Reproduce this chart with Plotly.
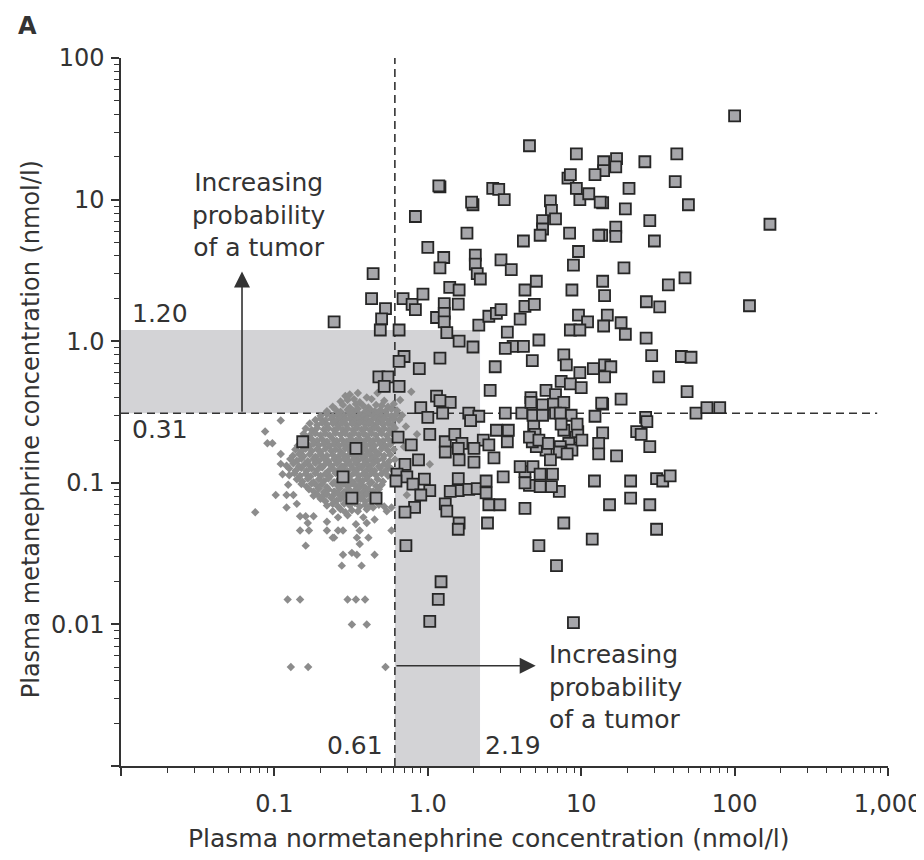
import math
import plotly.graph_objects as go

# ---------------- data (nmol/l) ----------------
NMN_REF_LIMIT = 0.61     # normetanephrine upper reference limit
NMN_HIGH_LIMIT = 2.19    # normetanephrine upper limit of grey zone
MN_REF_LIMIT = 0.31      # metanephrine upper reference limit
MN_HIGH_LIMIT = 1.20     # metanephrine upper limit of grey zone

x_tick_vals = [0.01, 0.1, 1, 10, 100, 1000]
x_tick_text = ["", "0.1", "1.0", "10", "100", "1,000"]
y_tick_vals = [0.001, 0.01, 0.1, 1, 10, 100]
y_tick_text = ["", "0.01", "0.1", "1.0", "10", "100"]

# patients with tumour: (normetanephrine, metanephrine)
tumor_points = [
    (100, 39), (42, 21), (41, 13.4), (20.5, 12), (50, 9.2), (13.8, 9.5), (19.4, 8.6), (28, 7.1), (170, 6.7),
    (16.8, 6.4), (16.8, 5.5), (13.6, 5.6), (30, 5.1), (19, 3.3), (13.8, 2.65), (37, 2.5), (47.5, 2.8),
    (14.2, 2.1), (26.6, 1.9), (32.5, 1.75), (125, 1.78), (14.8, 1.53), (14, 1.28), (18.2, 1.35), (19.4, 1.12),
    (26.5, 1.05), (28.8, 0.79), (45, 0.78), (52, 0.77), (14.2, 0.68), (15.6, 0.66), (14.2, 0.56), (32, 0.56),
    (49, 0.44), (18.2, 0.39), (13.8, 0.36), (56, 0.31), (66, 0.34), (80, 0.34), (26.3, 0.29), (26.8, 0.27),
    (23, 0.23), (24.6, 0.22), (13.8, 0.225), (28, 0.18),
    (4.6, 24), (9.3, 21), (14, 18.5), (17, 19.5), (16.8, 17), (14, 16), (26, 18.5),
    (1.2, 12.3), (1.18, 12.5), (2.65, 12), (2.9, 11.8), (3.15, 10), (1.97, 9.2), (1.93, 9.6), (0.83, 7.6),
    (1.8, 5.8), (1.0, 4.6), (1.27, 3.9), (1.2, 3.3), (0.44, 3.0), (2.04, 4.05), (2.04, 3.5), (2.1, 3.0),
    (2.2, 2.75), (3.0, 3.75), (3.5, 3.2), (4.2, 5.1), (6.3, 9.8), (6.4, 8.4), (6.8, 7.3), (5.6, 7.1),
    (5.6, 6.2), (5.4, 5.6), (8.2, 14.2), (8.5, 15), (12.3, 15), (9.3, 12), (9.8, 10), (11.2, 11),
    (13.3, 9.6), (8.4, 5.8), (13, 5.6), (9.6, 4.3), (8.9, 3.45),
    (0.43, 2.0), (0.53, 1.7), (0.5, 1.44), (0.49, 1.2), (0.65, 1.2), (0.69, 2.0), (0.79, 1.82), (0.83, 1.67),
    (0.93, 2.15), (1.14, 1.47), (1.28, 1.84), (1.28, 1.57), (1.28, 1.37), (1.39, 2.4), (1.6, 2.3), (1.58, 1.83),
    (1.33, 1.15), (1.6, 1.0), (1.97, 0.91), (2.15, 1.3), (2.5, 1.5), (2.8, 1.57), (3.0, 1.67), (3.3, 1.16),
    (3.6, 0.92), (4.2, 0.92), (3.2, 0.89), (4.0, 1.43), (4.3, 1.76), (4.3, 2.3), (5.1, 2.65), (4.95, 1.82),
    (5.3, 1.02), (2.75, 0.66), (4.8, 0.73), (8.7, 2.3), (9.6, 1.53), (11, 1.37), (8.5, 1.2), (9.8, 1.2),
    (7.7, 0.8), (8, 0.68), (7.4, 0.52), (8.5, 0.5), (9.8, 0.6), (12, 0.64), (5.9, 0.45), (6.8, 0.42),
    (4.7, 0.4), (2.55, 0.45), (1.2, 0.76), (1.14, 0.41), (0.88, 0.64), (0.7, 0.78), (0.65, 0.72), (0.48, 0.56),
    (0.55, 0.56), (0.52, 0.48), (0.65, 0.48), (10, 0.47), (0.245, 1.37),
    (1.4, 0.37), (1.2, 0.38), (1.25, 0.31), (0.9, 0.34), (1.0, 0.29), (1.85, 0.31), (2.15, 0.295), (1.9, 0.275),
    (3.2, 0.31), (4.1, 0.31), (4.7, 0.37), (4.85, 0.30), (0.64, 0.21), (1.03, 0.22), (0.78, 0.185), (1.3, 0.195),
    (1.5, 0.22), (1.67, 0.19), (2.3, 0.2), (2.8, 0.235), (3.3, 0.195), (3.35, 0.235), (2.5, 0.185), (1.3, 0.165),
    (1.58, 0.175), (2.0, 0.175), (2.7, 0.15), (0.87, 0.145), (0.71, 0.135), (1.6, 0.145), (2.0, 0.14), (0.63, 0.115),
    (0.73, 0.11), (0.62, 0.103), (0.95, 0.106), (0.8, 0.098), (1.03, 0.088), (0.9, 0.082), (1.58, 0.107), (1.58, 0.088),
    (1.4, 0.087), (1.85, 0.09), (2.1, 0.091), (2.4, 0.103), (3.1, 0.11), (2.4, 0.085), (4.3, 0.12), (4.6, 0.096),
    (4.85, 0.13), (0.82, 0.067), (0.71, 0.062), (1.3, 0.071), (1.33, 0.063), (2.5, 0.07), (2.95, 0.07), (4.3, 0.066),
    (1.6, 0.052), (2.45, 0.052), (1.58, 0.047),
    (0.153, 0.195), (0.34, 0.175), (0.28, 0.11), (0.32, 0.078), (0.46, 0.078), (0.72, 0.036),
    (5.6, 0.355), (6.6, 0.36), (7.7, 0.37), (8.6, 0.30), (5.6, 0.30), (6.8, 0.31), (7.3, 0.31), (13.6, 0.365),
    (12.3, 0.295), (13, 0.19), (13, 0.16), (17, 0.155), (4.9, 0.25), (5, 0.22), (7.7, 0.235), (7.4, 0.26),
    (9.2, 0.21), (8.3, 0.19), (8.7, 0.17), (7.3, 0.18), (5.9, 0.17), (7.2, 0.165), (6.3, 0.145), (8.1, 0.16),
    (5.1, 0.18), (5.4, 0.115), (6.5, 0.115), (5.4, 0.094), (7.2, 0.087), (6.4, 0.094), (12.2, 0.103), (21, 0.103),
    (31, 0.107), (34, 0.103), (38, 0.112), (15.3, 0.07), (21, 0.078), (28, 0.07), (7.7, 0.052), (31, 0.047),
    (4.8, 0.195), (4.6, 0.21), (5.3, 0.20), (6.1, 0.19), (9.5, 0.23), (10.1, 0.2), (9.4, 0.26), (4.0, 0.13),
    (4.3, 0.1),
    (1.22, 0.02), (1.17, 0.015), (1.03, 0.0105), (5.3, 0.036), (6.9, 0.026), (11.8, 0.04), (8.9, 0.0103),
]

# reference (healthy) population: (normetanephrine, metanephrine)
healthy_points = [
    (0.78, 0.44), (0.47, 0.43),
    (0.29, 0.41), (0.31, 0.42), (0.40, 0.40), (0.35, 0.43),
    (0.27, 0.375), (0.30, 0.385), (0.36, 0.37), (0.43, 0.39), (0.52, 0.38), (0.66, 0.385), (0.33, 0.39),
    (0.24, 0.345), (0.28, 0.355), (0.31, 0.34), (0.34, 0.36), (0.38, 0.35), (0.41, 0.34), (0.46, 0.355),
    (0.55, 0.345), (0.60, 0.36), (0.50, 0.352),
    (0.22, 0.32), (0.25, 0.33), (0.27, 0.318), (0.30, 0.328), (0.33, 0.322), (0.35, 0.334), (0.39, 0.318),
    (0.42, 0.33), (0.45, 0.32), (0.49, 0.327), (0.53, 0.32), (0.58, 0.332), (0.63, 0.324),
    (0.20, 0.297), (0.22, 0.305), (0.24, 0.295), (0.26, 0.303), (0.285, 0.296), (0.31, 0.306), (0.33, 0.298),
    (0.36, 0.302), (0.38, 0.294), (0.41, 0.305), (0.44, 0.298), (0.47, 0.307), (0.50, 0.296), (0.54, 0.303),
    (0.58, 0.297), (0.62, 0.304), (0.68, 0.30),
    (0.11, 0.275), (0.185, 0.278), (0.20, 0.285), (0.215, 0.276), (0.235, 0.283), (0.255, 0.277), (0.27, 0.286),
    (0.29, 0.279), (0.31, 0.284), (0.335, 0.276), (0.355, 0.285), (0.38, 0.278), (0.40, 0.283), (0.43, 0.277),
    (0.46, 0.286), (0.49, 0.279), (0.52, 0.284), (0.56, 0.276), (0.60, 0.282), (0.65, 0.279),
    (0.17, 0.262), (0.19, 0.256), (0.205, 0.265), (0.22, 0.258), (0.24, 0.263), (0.26, 0.255), (0.275, 0.264),
    (0.295, 0.257), (0.32, 0.262), (0.34, 0.256), (0.36, 0.265), (0.39, 0.259), (0.41, 0.262), (0.44, 0.255),
    (0.47, 0.264), (0.51, 0.258), (0.55, 0.263), (0.59, 0.256), (0.72, 0.25),
    (0.087, 0.23), (0.16, 0.242), (0.175, 0.236), (0.19, 0.244), (0.21, 0.238), (0.225, 0.243), (0.245, 0.236),
    (0.26, 0.245), (0.28, 0.237), (0.30, 0.242), (0.325, 0.236), (0.345, 0.244), (0.37, 0.238), (0.39, 0.243),
    (0.42, 0.236), (0.45, 0.245), (0.48, 0.238), (0.52, 0.242), (0.56, 0.237), (0.61, 0.244),
    (0.155, 0.222), (0.17, 0.216), (0.185, 0.224), (0.20, 0.217), (0.215, 0.223), (0.23, 0.216), (0.25, 0.225),
    (0.27, 0.218), (0.29, 0.223), (0.31, 0.216), (0.33, 0.224), (0.355, 0.218), (0.38, 0.222), (0.40, 0.215),
    (0.43, 0.224), (0.46, 0.217), (0.50, 0.223), (0.54, 0.216), (0.58, 0.224), (0.63, 0.219), (0.85, 0.22),
    (0.09, 0.19), (0.097, 0.19), (0.148, 0.202), (0.16, 0.197), (0.175, 0.204), (0.19, 0.198), (0.205, 0.203),
    (0.22, 0.196), (0.24, 0.204), (0.255, 0.198), (0.275, 0.202), (0.295, 0.196), (0.315, 0.205), (0.34, 0.199),
    (0.36, 0.203), (0.385, 0.196), (0.41, 0.204), (0.44, 0.198), (0.47, 0.202), (0.51, 0.197), (0.55, 0.204),
    (0.60, 0.199),
    (0.142, 0.183), (0.155, 0.188), (0.17, 0.182), (0.18, 0.189), (0.195, 0.184), (0.21, 0.188), (0.23, 0.182),
    (0.245, 0.189), (0.265, 0.183), (0.285, 0.187), (0.30, 0.181), (0.325, 0.188), (0.35, 0.183), (0.37, 0.189),
    (0.395, 0.182), (0.42, 0.187), (0.45, 0.183), (0.49, 0.189), (0.53, 0.182), (0.57, 0.187), (0.70, 0.18),
    (0.137, 0.172), (0.15, 0.167), (0.16, 0.174), (0.175, 0.168), (0.19, 0.173), (0.20, 0.166), (0.215, 0.174),
    (0.235, 0.168), (0.25, 0.172), (0.27, 0.166), (0.29, 0.175), (0.31, 0.169), (0.335, 0.173), (0.355, 0.167),
    (0.38, 0.174), (0.40, 0.168), (0.43, 0.172), (0.46, 0.166), (0.50, 0.174), (0.55, 0.169), (0.60, 0.172),
    (0.11, 0.16), (0.132, 0.155), (0.145, 0.16), (0.155, 0.154), (0.17, 0.159), (0.185, 0.153), (0.20, 0.16),
    (0.22, 0.155), (0.24, 0.158), (0.26, 0.153), (0.28, 0.16), (0.30, 0.154), (0.32, 0.159), (0.345, 0.155),
    (0.37, 0.16), (0.39, 0.153), (0.42, 0.159), (0.45, 0.154), (0.48, 0.16), (0.52, 0.155), (0.57, 0.158),
    (0.127, 0.147), (0.14, 0.143), (0.15, 0.148), (0.165, 0.142), (0.18, 0.147), (0.195, 0.143), (0.21, 0.149),
    (0.225, 0.142), (0.245, 0.147), (0.265, 0.144), (0.285, 0.148), (0.305, 0.142), (0.33, 0.147), (0.35, 0.143),
    (0.375, 0.149), (0.40, 0.142), (0.43, 0.147), (0.47, 0.143), (0.51, 0.148), (0.56, 0.142), (0.61, 0.146),
    (0.11, 0.136), (0.12, 0.132), (0.133, 0.137), (0.145, 0.131), (0.158, 0.136), (0.17, 0.132), (0.185, 0.138),
    (0.20, 0.131), (0.215, 0.136), (0.235, 0.132), (0.255, 0.137), (0.275, 0.131), (0.295, 0.136), (0.315, 0.133),
    (0.34, 0.138), (0.36, 0.131), (0.385, 0.136), (0.41, 0.132), (0.44, 0.137), (0.48, 0.131), (0.52, 0.136),
    (0.55, 0.132), (1.03, 0.135),
    (0.125, 0.126), (0.138, 0.122), (0.15, 0.127), (0.162, 0.121), (0.175, 0.126), (0.19, 0.123), (0.205, 0.128),
    (0.225, 0.121), (0.24, 0.126), (0.26, 0.122), (0.28, 0.127), (0.30, 0.121), (0.325, 0.126), (0.345, 0.123),
    (0.37, 0.128), (0.395, 0.121), (0.42, 0.126), (0.45, 0.122), (0.49, 0.127), (0.53, 0.121), (0.58, 0.125),
    (0.66, 0.12),
    (0.113, 0.115), (0.125, 0.113), (0.135, 0.117), (0.147, 0.112), (0.16, 0.116), (0.172, 0.111), (0.185, 0.117),
    (0.20, 0.112), (0.215, 0.116), (0.23, 0.111), (0.25, 0.117), (0.27, 0.113), (0.29, 0.116), (0.31, 0.111),
    (0.33, 0.117), (0.355, 0.112), (0.38, 0.116), (0.405, 0.111), (0.43, 0.117), (0.46, 0.113), (0.50, 0.116),
    (0.55, 0.112),
    (0.14, 0.106), (0.152, 0.102), (0.165, 0.107), (0.18, 0.101), (0.195, 0.106), (0.21, 0.103), (0.225, 0.107),
    (0.245, 0.101), (0.265, 0.106), (0.285, 0.102), (0.305, 0.107), (0.325, 0.101), (0.35, 0.106), (0.375, 0.103),
    (0.40, 0.107), (0.43, 0.101), (0.47, 0.106), (0.51, 0.102),
    (0.123, 0.097), (0.15, 0.098), (0.162, 0.094), (0.175, 0.099), (0.19, 0.095), (0.205, 0.098), (0.22, 0.093),
    (0.24, 0.099), (0.26, 0.095), (0.28, 0.098), (0.30, 0.094), (0.32, 0.099), (0.34, 0.095), (0.365, 0.098),
    (0.39, 0.093), (0.42, 0.099), (0.46, 0.095), (0.50, 0.097),
    (0.168, 0.09), (0.18, 0.087), (0.195, 0.091), (0.21, 0.086), (0.225, 0.09), (0.245, 0.087), (0.265, 0.091),
    (0.285, 0.086), (0.305, 0.09), (0.33, 0.087), (0.355, 0.091), (0.38, 0.086), (0.41, 0.09), (0.44, 0.087),
    (0.48, 0.09),
    (0.102, 0.082), (0.12, 0.082), (0.133, 0.082), (0.18, 0.081), (0.19, 0.083), (0.205, 0.08), (0.22, 0.083),
    (0.24, 0.081), (0.26, 0.084), (0.28, 0.08), (0.30, 0.083), (0.325, 0.081), (0.35, 0.084), (0.375, 0.08),
    (0.40, 0.083), (0.43, 0.081), (0.46, 0.082), (0.73, 0.082),
    (0.20, 0.077), (0.215, 0.074), (0.235, 0.078), (0.255, 0.075), (0.27, 0.077), (0.295, 0.074), (0.315, 0.078),
    (0.34, 0.075), (0.365, 0.077), (0.39, 0.074), (0.42, 0.076),
    (0.14, 0.071), (0.22, 0.069), (0.24, 0.071), (0.26, 0.068), (0.285, 0.071), (0.31, 0.069), (0.335, 0.072),
    (0.36, 0.068), (0.39, 0.07), (0.42, 0.069), (0.48, 0.07), (0.52, 0.068),
    (0.075, 0.062), (0.12, 0.067), (0.24, 0.063), (0.27, 0.065), (0.29, 0.062), (0.32, 0.064), (0.35, 0.063),
    (0.40, 0.065), (0.44, 0.067), (0.54, 0.063), (0.58, 0.067),
    (0.147, 0.058), (0.16, 0.058), (0.18, 0.058), (0.26, 0.057), (0.30, 0.059), (0.38, 0.057), (0.45, 0.055),
    (0.165, 0.052), (0.22, 0.053), (0.34, 0.051), (0.40, 0.052),
    (0.147, 0.046), (0.168, 0.046), (0.22, 0.046), (0.26, 0.046), (0.28, 0.046), (0.36, 0.046), (0.58, 0.046),
    (0.24, 0.041), (0.245, 0.041), (0.345, 0.041), (0.41, 0.041),
    (0.16, 0.036), (0.36, 0.037),
    (0.28, 0.031), (0.32, 0.032), (0.345, 0.031), (0.45, 0.031),
    (0.275, 0.026), (0.37, 0.026),
    (0.122, 0.015), (0.147, 0.015), (0.30, 0.015), (0.34, 0.015), (0.39, 0.015),
    (0.32, 0.01), (0.40, 0.01),
    (0.128, 0.005), (0.166, 0.005), (0.53, 0.005),
]

tumor_nmn = [p[0] for p in tumor_points]
tumor_mn = [p[1] for p in tumor_points]
healthy_nmn = [p[0] for p in healthy_points]
healthy_mn = [p[1] for p in healthy_points]

x_minor = [m * 10.0 ** e for e in range(-2, 3) for m in range(2, 10)]
y_minor = [m * 10.0 ** e for e in range(-3, 2) for m in range(2, 10)]

# ---------------- figure ----------------
INK = "#333333"
GREY_ZONE = "rgb(211,211,214)"
FONT = "DejaVu Sans"

fig = go.Figure()
fig.add_trace(go.Scatter(
    x=healthy_nmn, y=healthy_mn, mode="markers", name="Reference population",
    marker=dict(symbol="diamond", size=6.5, color="#8c8c8c", line=dict(width=0)),
    showlegend=False))
fig.add_trace(go.Scatter(
    x=tumor_nmn, y=tumor_mn, mode="markers", name="Patients with tumor",
    marker=dict(symbol="square", size=11, color="#a6a6aa", line=dict(color="#262626", width=1.8)),
    showlegend=False))

shapes = [
    dict(type="rect", xref="x", yref="y", x0=0.01, x1=NMN_HIGH_LIMIT, y0=MN_REF_LIMIT, y1=MN_HIGH_LIMIT,
         fillcolor=GREY_ZONE, line=dict(width=0), layer="below"),
    dict(type="rect", xref="x", yref="y", x0=NMN_REF_LIMIT, x1=NMN_HIGH_LIMIT, y0=0.001, y1=MN_HIGH_LIMIT,
         fillcolor=GREY_ZONE, line=dict(width=0), layer="below"),
    dict(type="line", xref="x", yref="y", x0=NMN_REF_LIMIT, x1=NMN_REF_LIMIT, y0=0.001, y1=100,
         line=dict(color=INK, width=1.6, dash="8px,5px"), layer="below"),
    dict(type="line", xref="x", yref="y", x0=0.01, x1=850, y0=MN_REF_LIMIT, y1=MN_REF_LIMIT,
         line=dict(color=INK, width=1.6, dash="8px,5px"), layer="below"),
]

L = math.log10
txt = dict(family=FONT, size=25, color=INK)
annotations = [
    # panel letter
    dict(text="<b>A</b>", xref="paper", yref="paper", x=-0.137, y=1.068, xanchor="left", yanchor="top",
         showarrow=False, font=dict(family=FONT, size=24, color=INK)),
    # threshold labels
    dict(text="1.20", xref="x", yref="y", x=L(0.0114), y=L(MN_HIGH_LIMIT), xanchor="left", yanchor="bottom",
         showarrow=False, font=txt),
    dict(text="0.31", xref="x", yref="y", x=L(0.0114), y=L(MN_REF_LIMIT), xanchor="left", yanchor="top",
         showarrow=False, font=txt),
    dict(text="0.61", xref="x", yref="paper", x=L(NMN_REF_LIMIT), y=0, xanchor="right", yanchor="bottom",
         xshift=-10, yshift=4, showarrow=False, font=txt),
    dict(text="2.19", xref="x", yref="paper", x=L(NMN_HIGH_LIMIT), y=0, xanchor="left", yanchor="bottom",
         xshift=3, yshift=4, showarrow=False, font=txt),
    # upward arrow + text
    dict(text="", xref="x", yref="y", x=L(0.0615), y=L(3.1), axref="x", ayref="y",
         ax=L(0.0615), ay=L(MN_REF_LIMIT), showarrow=True, arrowhead=2, arrowsize=2,
         arrowwidth=1.6, arrowcolor=INK),
    dict(text="Increasing<br>probability<br>of a tumor", xref="x", yref="y", x=L(0.079), y=L(7.8),
         xanchor="center", yanchor="middle", align="center", showarrow=False, font=txt),
    # rightward arrow + text
    dict(text="", xref="x", yref="y", x=L(5.05), y=L(0.0051), axref="x", ayref="y",
         ax=L(NMN_REF_LIMIT), ay=L(0.0051), showarrow=True, arrowhead=2, arrowsize=2,
         arrowwidth=1.6, arrowcolor=INK),
    dict(text="Increasing<br>probability<br>of a tumor", xref="x", yref="y", x=L(6.0), y=L(0.0036),
         xanchor="left", yanchor="middle", align="left", showarrow=False, font=txt),
    # axis titles
    dict(text="Plasma normetanephrine concentration (nmol/l)", xref="paper", yref="paper",
         x=0.48, y=-0.102, xanchor="center", yanchor="middle", showarrow=False, font=txt),
    dict(text="Plasma metanephrine concentration (nmol/l)", xref="paper", yref="paper",
         x=-0.117, y=0.476, xanchor="center", yanchor="middle", textangle=-90, showarrow=False,
         font=dict(family=FONT, size=24, color=INK)),
]

axis_common = dict(
    type="log", showgrid=False, zeroline=False, showline=True, linecolor=INK, linewidth=1.5,
    ticks="outside", ticklen=8, tickwidth=1.5, tickcolor=INK, mirror=False,
    tickfont=dict(family=FONT, size=24, color=INK),
)

# the page adds an 8 px body margin, so the figure is 8 px smaller than the window
fig.update_layout(
    width=916, height=852,
    margin=dict(l=113, r=36, t=50, b=94, autoexpand=False),
    paper_bgcolor="white", plot_bgcolor="white",
    font=dict(family=FONT, color=INK),
    showlegend=False,
    shapes=shapes, annotations=annotations,
    xaxis=dict(range=[-2, 3], tickvals=x_tick_vals, ticktext=x_tick_text, ticklabelstandoff=7,
               minor=dict(tickvals=x_minor, ticks="outside", ticklen=5, tickwidth=1.2, tickcolor=INK),
               **axis_common),
    yaxis=dict(range=[-3, 2], tickvals=y_tick_vals, ticktext=y_tick_text, ticklabelstandoff=2,
               minor=dict(tickvals=y_minor, ticks="outside", ticklen=5, tickwidth=1.2, tickcolor=INK),
               **axis_common),
)

fig.write_html("out.html")
